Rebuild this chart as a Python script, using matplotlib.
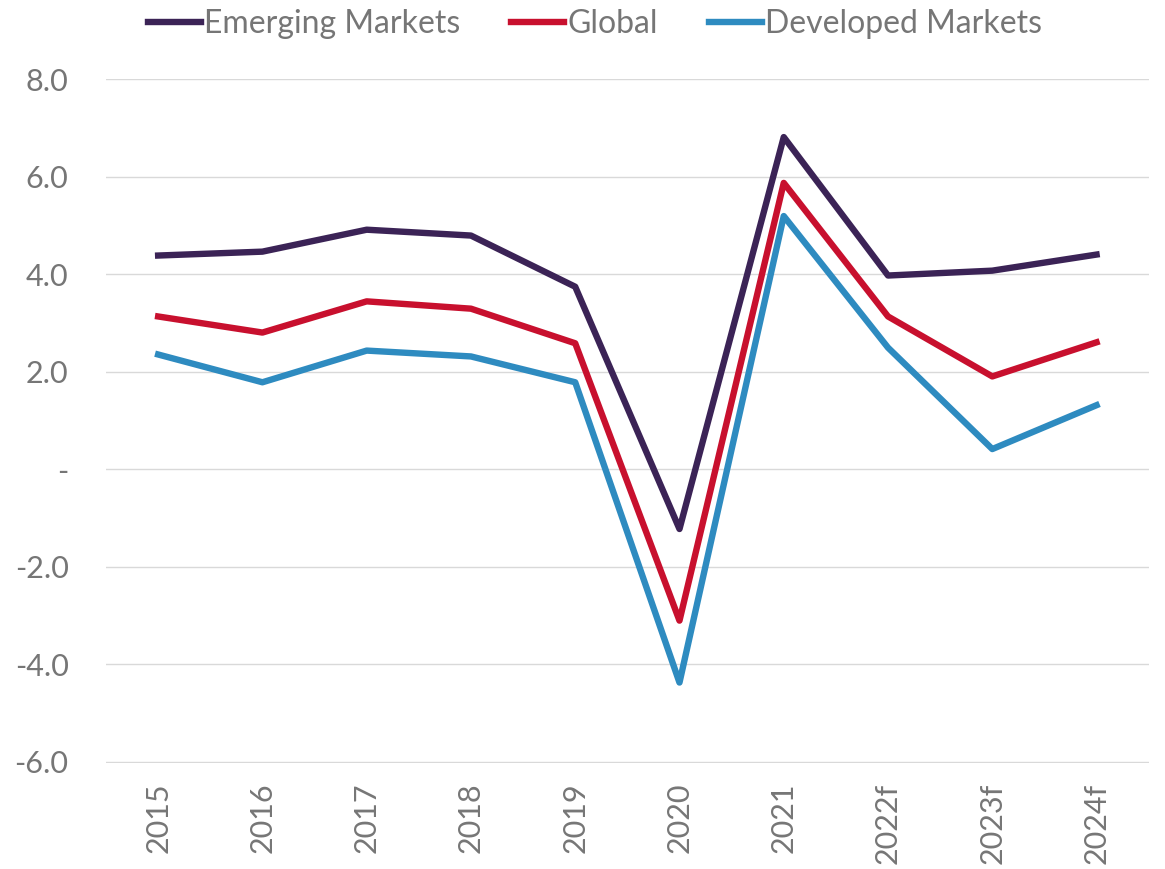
import matplotlib.pyplot as plt
from matplotlib.ticker import FuncFormatter

plt.rcParams['font.family'] = ['Lato', 'DejaVu Sans']

years = ["2015", "2016", "2017", "2018", "2019", "2020", "2021", "2022f", "2023f", "2024f"]
emerging = [4.38, 4.46, 4.91, 4.79, 3.74, -1.23, 6.81, 3.97, 4.07, 4.40]
global_ = [3.13, 2.80, 3.44, 3.29, 2.58, -3.11, 5.87, 3.13, 1.90, 2.60]
developed = [2.35, 1.78, 2.43, 2.31, 1.78, -4.38, 5.19, 2.49, 0.41, 1.31]

fig = plt.figure(figsize=(11.65, 8.69), dpi=100)
ax = fig.add_axes([0.091, 0.122, 0.895, 0.787])

x = range(len(years))
ax.plot(x, emerging, color="#3b2356", lw=4.6, label="Emerging Markets")
ax.plot(x, global_, color="#c8102e", lw=4.6, label="Global")
ax.plot(x, developed, color="#2e8bc0", lw=4.6, label="Developed Markets")

ax.set_xlim(-0.5, len(years) - 0.5)
ax.set_ylim(-6.03, 8)
ax.set_yticks([-6, -4, -2, 0, 2, 4, 6, 8])
ax.yaxis.set_major_formatter(FuncFormatter(lambda v, p: "-" if v == 0 else f"{v:.1f}"))
ax.set_xticks(list(x))
ax.set_xticklabels(years, rotation=90)
ax.grid(axis="y", color="#d9d9d9", lw=1)
ax.set_axisbelow(True)
for s in ax.spines.values():
    s.set_visible(False)
ax.tick_params(length=0, labelsize=22, colors="#767676")
ax.tick_params(axis="y", pad=27)
ax.tick_params(axis="x", pad=14)

ax.legend(loc="center", bbox_to_anchor=(0.469, 1.08), ncol=3, frameon=False,
          fontsize=23, labelcolor="#767676", handlelength=1.65, handletextpad=0.1,
          columnspacing=1.6, borderpad=0)

fig.savefig("out.png", dpi=100)
